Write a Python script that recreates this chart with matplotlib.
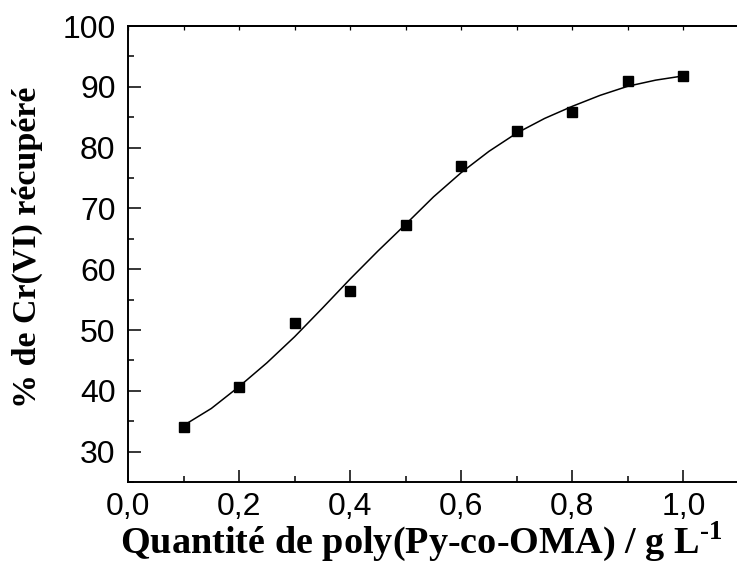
import numpy as np
import matplotlib
matplotlib.use("Agg")
import matplotlib.pyplot as plt
from matplotlib.ticker import MultipleLocator, FuncFormatter

# measured recovery
dose = [0.1, 0.2, 0.3, 0.4, 0.5, 0.6, 0.7, 0.8, 0.9, 1.0]
recovery = [34.0, 40.6, 51.2, 56.5, 67.3, 77.0, 82.8, 85.9, 90.9, 91.8]

# fitted curve
fit_x = [0.10, 0.15, 0.20, 0.25, 0.30, 0.35, 0.40, 0.45, 0.50, 0.55,
         0.60, 0.65, 0.70, 0.75, 0.80, 0.85, 0.90, 0.95, 1.00]
fit_y = [34.3, 37.1, 40.7, 44.6, 48.9, 53.6, 58.4, 63.0, 67.4, 71.9,
         75.9, 79.4, 82.4, 84.8, 86.8, 88.6, 90.1, 91.1, 91.8]

plt.rcParams['mathtext.fontset'] = 'custom'
plt.rcParams['mathtext.rm'] = 'Liberation Serif:bold'
plt.rcParams['mathtext.bf'] = 'Liberation Serif:bold'

fig = plt.figure(figsize=(7.37, 5.72), dpi=100)
ax = fig.add_axes([0.1737, 0.1573, 0.8290, 0.7972])

ax.plot(fit_x, fit_y, color='black', lw=1.1)
ax.plot(dose, recovery, 's', color='black', ms=7.5, ls='none')

ax.set_xlim(0, 1.1)
ax.set_ylim(25, 100)
ax.xaxis.set_major_locator(MultipleLocator(0.2))
ax.xaxis.set_minor_locator(MultipleLocator(0.1))
ax.yaxis.set_major_locator(MultipleLocator(10))
ax.yaxis.set_minor_locator(MultipleLocator(5))
ax.xaxis.set_major_formatter(FuncFormatter(lambda v, p: f"{v:.1f}".replace('.', ',')))

ax.tick_params(which='major', direction='in', length=9, width=1.1,
               labelsize=23)
ax.tick_params(axis='x', which='major', pad=7)
ax.tick_params(axis='y', which='major', pad=9)
ax.tick_params(which='minor', direction='in', length=4.5, width=1.1)
for lab in ax.get_xticklabels() + ax.get_yticklabels():
    lab.set_family('Liberation Sans')

top = ax.secondary_xaxis('top')
top.xaxis.set_major_locator(MultipleLocator(0.1))
top.tick_params(direction='in', length=3, width=0.9, labeltop=False)
top.spines['top'].set_linewidth(1.4)

ax.spines['right'].set_visible(False)
for s in ['left', 'bottom', 'top']:
    ax.spines[s].set_linewidth(1.4)

ax.set_xlabel(r'Quantité de poly(Py-co-OMA) / g L$^{\text{-1}}$',
              family='Liberation Serif', weight='bold', fontsize=27.5)
ax.set_ylabel('% de Cr(VI) récupéré',
              family='Liberation Serif', weight='bold', fontsize=24.5)
ax.xaxis.set_label_coords(0.4795, -0.083)
ax.yaxis.set_label_coords(-0.139, 0.514)

fig.savefig('out.png', dpi=100)
